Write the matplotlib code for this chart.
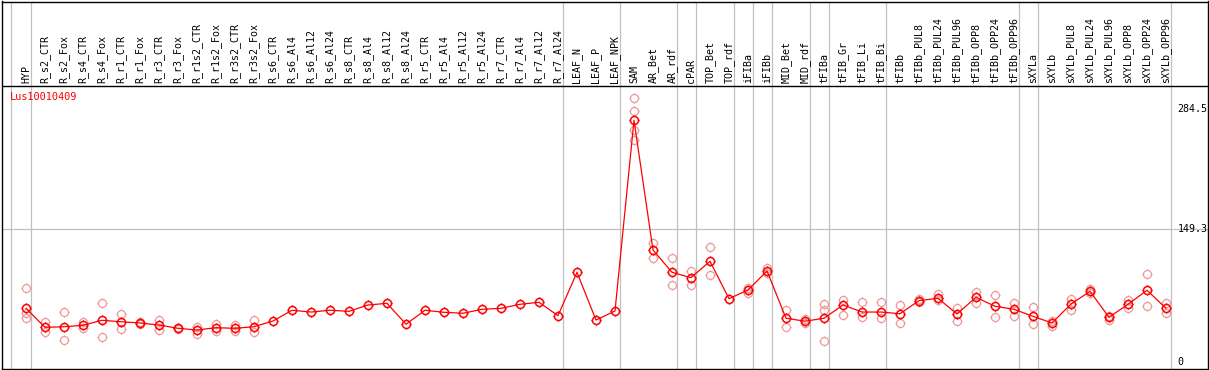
import matplotlib
matplotlib.use("Agg")
import matplotlib.pyplot as plt
from matplotlib.path import Path

categories = ["HYP", "R_s2_CTR", "R_s2_Fox", "R_s4_CTR", "R_s4_Fox", "R_r1_CTR", "R_r1_Fox",
              "R_r3_CTR", "R_r3_Fox", "R_r1s2_CTR", "R_r1s2_Fox", "R_r3s2_CTR", "R_r3s2_Fox",
              "R_s6_CTR", "R_s6_Al4", "R_s6_Al12", "R_s6_Al24", "R_s8_CTR", "R_s8_Al4",
              "R_s8_Al12", "R_s8_Al24", "R_r5_CTR", "R_r5_Al4", "R_r5_Al12", "R_r5_Al24",
              "R_r7_CTR", "R_r7_Al4", "R_r7_Al12", "R_r7_Al24", "LEAF_N", "LEAF_P", "LEAF_NPK",
              "SAM", "AR_Bet", "AR_rdf", "cPAR", "TOP_Bet", "TOP_rdf", "iFIBa", "iFIBb",
              "MID_Bet", "MID_rdf", "tFIBa", "tFIB_Gr", "tFIB_Li", "tFIB_Bi", "tFIBb",
              "tFIBb_PUL8", "tFIBb_PUL24", "tFIBb_PUL96", "tFIBb_OPP8", "tFIBb_OPP24",
              "tFIBb_OPP96", "sXYLa", "sXYLb", "sXYLb_PUL8", "sXYLb_PUL24", "sXYLb_PUL96",
              "sXYLb_OPP8", "sXYLb_OPP24", "sXYLb_OPP96"]

mean_values = [60.4, 39.0, 39.7, 41.3, 46.9, 45.3, 43.9, 41.6, 37.9, 36.0, 38.6, 37.9, 39.7,
               46.1, 58.2, 56.2, 58.2, 57.0, 64.1, 66.0, 42.5, 58.2, 55.9, 54.8, 59.3,
               60.4, 64.9, 67.2, 52.1, 100.9, 47.2, 57.4,
               271.9, 126.0, 100.9, 94.8, 113.3, 71.2, 81.0, 102.4,
               49.2, 45.9, 49.2, 64.1, 56.2, 56.2, 54.3,
               69.0, 71.7, 54.0, 72.8, 62.7, 59.3,
               51.4, 43.9, 65.2, 79.5, 50.3, 64.9, 80.7, 60.4]

replicates = [[82.9, 55.1, 49.2], [44.7, 34.1], [55.9, 24.4], [44.7, 37.9], [66.0, 27.8],
              [54.0, 36.8], [44.7, 42.7], [46.9, 35.7], [38.6, 37.1], [39.7, 31.5],
              [42.4, 35.2], [41.3, 34.9], [46.9, 33.4],
              [], [], [], [], [], [], [], [], [], [], [], [], [], [], [], [], [], [], [],
              [296.6, 282.3, 260.9, 249.7], [133.5, 116.6], [116.6, 86.3], [102.4, 86.6],
              [129.0, 97.5], [], [78.0, 82.9], [105.4, 99.8],
              [58.5, 39.0], [48.0, 43.9], [64.9, 58.5, 23.6], [69.7, 52.9], [67.2, 50.3],
              [67.2, 49.2], [64.1, 43.5],
              [70.9, 67.5], [76.2, 69.7], [61.1, 46.5], [79.1, 66.7], [75.4, 50.3], [66.7, 52.1],
              [61.9, 42.4], [45.8, 40.5], [70.5, 58.5], [82.5, 77.4], [47.2, 51.7],
              [69.7, 60.4], [99.0, 63.0], [66.0, 55.5]]

axis_ticks = [0, 149.3, 284.5]
gene_id = "Lus10010409"
separators = [-0.8, 0.25, 28.25, 31.25, 34.25, 35.25, 37.25, 38.25, 39.25, 41.25, 42.25,
              45.25, 52.25, 53.25, 60.25]

# pixel geometry helpers
W, H = 1209, 370
K = 0.889  # pixels per unit


def v_of(ypx):
    return (362 - ypx) / K


def i_of(xpx):
    return (xpx - 26) / 19.0


fig = plt.figure(figsize=(W / 100, H / 100), dpi=100)
ax = fig.add_axes([1.5 / W, 1.5 / H, 1206 / W, 367 / H])
ax.set_xlim(i_of(1.5), i_of(1207.5))
ax.set_ylim(v_of(368.5), v_of(1.5))
for s in ax.spines.values():
    s.set_linewidth(1.0)
    s.set_color("black")
ax.set_xticks([])
ax.set_yticks([])

grey = "#c0c0c0"
for sx in separators:
    ax.axvline(sx, color=grey, lw=0.9, zorder=1)
ax.axhline(149.3, color=grey, lw=0.9, zorder=1)
ax.axhline(v_of(86), color="black", lw=1.0, zorder=2)

# marker: circle with small ticks
circle = Path.unit_circle()
t = 1.25
ticks = Path([(0, 1), (0, t), (0, -1), (0, -t), (1, 0), (t, 0), (-1, 0), (-t, 0)],
             [Path.MOVETO, Path.LINETO] * 4)
mk = Path.make_compound_path(circle, ticks)

rx, ry = [], []
for i, reps in enumerate(replicates):
    for r in reps:
        rx.append(i)
        ry.append(r)
ax.plot(rx, ry, linestyle="none", marker=mk, markersize=7.2, markerfacecolor="none",
        markeredgecolor="#ee9999", markeredgewidth=0.9, zorder=3)

xs = list(range(len(categories)))
ax.plot(xs, mean_values, color="#ff0000", lw=0.9, zorder=4)
ax.plot(xs, mean_values, linestyle="none", marker=mk, markersize=7.2, markerfacecolor="none",
        markeredgecolor="#ff0000", markeredgewidth=1.1, zorder=5)

font = "DejaVu Sans Mono"
for i, c in enumerate(categories):
    ax.text(i, v_of(83.5), c, rotation=90, ha="center", va="bottom", fontsize=7.2,
            family=font, color="black", zorder=6)

ax.text(i_of(9.5), v_of(97), gene_id, ha="left", va="center", fontsize=7.4,
        family=font, color="#ff0000", zorder=6)

for tv in axis_ticks:
    ax.text(i_of(1177.5), tv, f"{tv:g}", ha="left", va="center", fontsize=7.2,
            family=font, color="black", zorder=6)

fig.savefig("out.png", dpi=100)
